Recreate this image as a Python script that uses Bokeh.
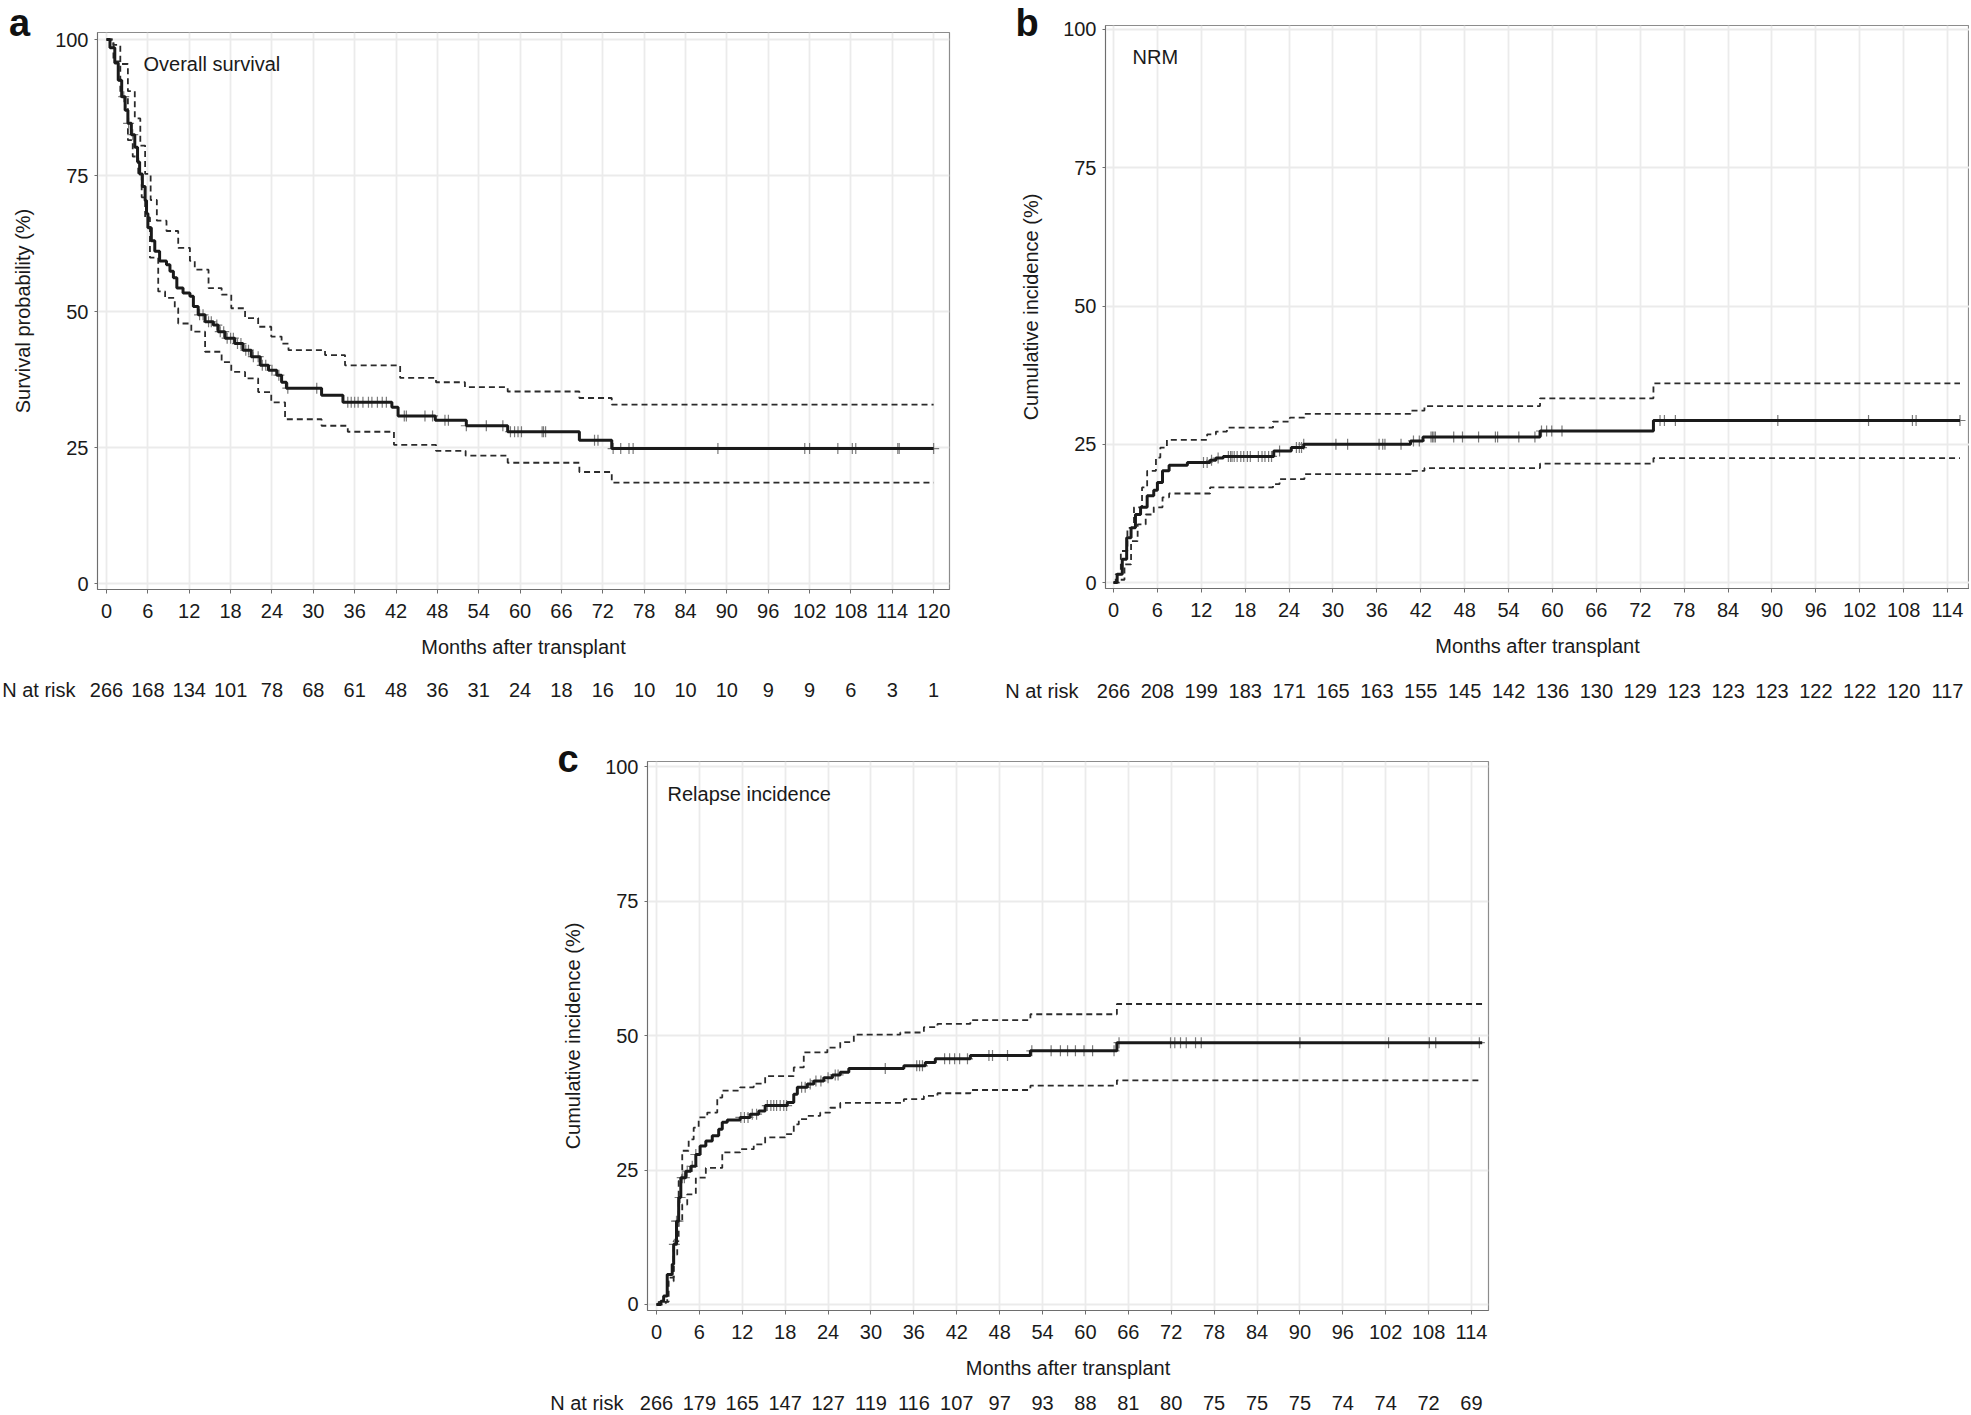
import numpy as np
from bokeh.plotting import figure
from bokeh.models import Label, ColumnDataSource, FixedTicker, Range1d, Spacer, Title
from bokeh.core.properties import value
from bokeh.layouts import row, column
from bokeh.embed import file_html
from bokeh.resources import INLINE

FONT = "Liberation Sans"
TXT = "#1a1a1a"

# ---------------- Panel a: overall survival ----------------
os_time = [0, 0.5, 1.2, 1.7, 2.2, 2.7, 3.1, 3.6, 4.1, 4.5, 4.8, 5.2, 5.6, 5.8, 6.0, 6.5, 7.0, 7.7, 8.7, 9.2,
           9.7, 10.2, 11.1, 12.1, 12.6, 13.3, 14.3, 15.5, 16.2, 17.2, 18.6, 19.8, 21.0, 22.3, 23.5, 24.7,
           25.4, 26.1, 31.2, 34.3, 41.4, 42.3, 47.7, 52.2, 58.2, 68.6, 73.3, 120]
os_surv = [100, 98.5, 95.7, 92.5, 89.5, 87.0, 84.6, 82.5, 80.2, 77.5, 75.3, 73.0, 70.4, 68.0, 65.4, 63.0, 61.1,
           59.3, 58.6, 57.4, 56.2, 54.3, 53.4, 52.8, 50.9, 49.4, 48.1, 47.5, 46.3, 45.1, 44.1, 42.9, 41.7, 40.1,
           39.2, 38.3, 37.0, 35.9, 34.6, 33.3, 32.4, 30.8, 30.0, 29.0, 27.9, 26.35, 24.8, 24.8]
os_up_time = [0, 1.0, 2.0, 3.1, 4.1, 4.9, 5.6, 6.4, 7.3, 8.7, 10.4, 12.1, 12.8, 14.8, 16.7, 18.1, 20.1, 22.0,
              23.9, 25.4, 26.4, 31.7, 34.6, 42.6, 47.8, 52.0, 58.2, 68.6, 73.3, 120]
os_up = [100, 99.0, 95.5, 90.5, 85.5, 80.5, 75.3, 70.5, 66.7, 64.8, 61.7, 59.3, 57.7, 54.3, 53.1, 50.6, 48.8,
         47.2, 45.4, 44.1, 42.9, 42.0, 40.1, 37.8, 37.0, 36.1, 35.3, 34.1, 32.9, 32.9]
os_lo_time = [0, 1.0, 2.0, 3.1, 3.8, 4.6, 5.1, 5.6, 6.3, 7.5, 8.5, 9.9, 10.4, 12.3, 14.3, 16.7, 18.1, 20.1,
              22.0, 23.9, 25.9, 31.2, 35.0, 41.7, 47.8, 52.1, 58.2, 68.6, 73.3, 120]
os_lo = [100, 96.0, 89.5, 81.5, 78.5, 75.3, 71.0, 67.3, 59.9, 53.7, 52.5, 50.6, 47.8, 46.3, 42.6, 40.7, 38.9,
         37.7, 35.2, 33.3, 30.2, 29.0, 27.9, 25.5, 24.4, 23.5, 22.2, 20.5, 18.55, 18.55]
os_censor = [2.5, 3.2, 3.8, 13.5, 14.0, 14.8, 15.2, 16.0, 16.5, 17.0, 17.5, 18.0, 18.4, 19.0, 19.5, 20.2, 20.6,
             21.3, 22.0, 22.6, 23.1, 24.0, 25.0, 26.3, 30.5, 35.0, 35.5, 36.0, 36.5, 37.2, 38.0, 38.5, 39.3,
             40.0, 40.6, 43.2, 43.5, 46.2, 47.3, 49.1, 49.6, 52.2, 55.1, 57.5, 58.6, 59.2, 59.7, 60.2, 63.2,
             63.4, 63.7, 70.8, 71.3, 73.5, 74.6, 75.8, 76.4, 88.7, 101.3, 102.0, 106.1, 108.2, 108.7, 114.8,
             115.0, 120.0]
os_ticks = list(range(0, 121, 6))
os_risk = [266, 168, 134, 101, 78, 68, 61, 48, 36, 31, 24, 18, 16, 10, 10, 10, 9, 9, 6, 3, 1]

# ---------------- Panel b: NRM ----------------
nrm_time = [0, 0.5, 1.2, 1.8, 2.4, 3.0, 3.7, 4.6, 5.5, 6.0, 6.7, 7.6, 10.1, 13.2, 14.0, 15.0, 21.9, 24.3,
            26.0, 40.6, 42.3, 58.3, 73.8, 115.7]
nrm_ci = [0, 1.5, 4.2, 8.1, 9.9, 12.3, 13.6, 15.7, 16.7, 18.1, 20.2, 21.2, 21.7, 22.1, 22.5, 22.8, 23.8, 24.4,
          25.0, 25.6, 26.3, 27.4, 29.3, 29.3]
nrm_up_time = [0, 0.3, 1.0, 1.9, 2.8, 3.9, 4.6, 5.8, 6.4, 7.3, 12.8, 14.0, 15.5, 21.8, 24.1, 26.1, 40.6, 42.5,
               58.3, 73.8, 115.7]
nrm_up = [0, 1.5, 5.7, 9.9, 13.6, 17.2, 20.2, 22.6, 24.4, 25.8, 26.8, 27.3, 28.0, 29.1, 29.8, 30.5, 31.1, 31.9,
          33.3, 36.0, 36.0]
nrm_lo_time = [0, 0.8, 1.5, 2.4, 3.3, 4.4, 5.5, 6.7, 7.6, 13.2, 21.8, 22.7, 26.1, 40.6, 42.5, 58.3, 73.8, 115.7]
nrm_lo = [0, 0.5, 3.3, 7.5, 10.5, 12.3, 13.6, 15.4, 16.1, 17.2, 17.8, 18.7, 19.6, 20.2, 20.7, 21.5, 22.5, 22.5]
nrm_censor = [12.3, 12.8, 13.4, 14.3, 15.7, 16.0, 16.2, 16.5, 16.9, 17.4, 17.8, 18.3, 18.7, 19.8, 20.3, 20.7,
              21.2, 21.6, 22.7, 25.0, 25.4, 25.7, 26.0, 30.4, 32.0, 36.3, 36.8, 37.1, 39.3, 41.0, 41.8, 43.4,
              43.6, 43.8, 44.0, 46.5, 47.7, 49.9, 52.2, 52.5, 55.4, 57.6, 58.5, 59.2, 59.9, 61.3, 74.7, 75.3,
              76.8, 90.8, 103.2, 109.2, 109.7, 115.7]
nrm_ticks = list(range(0, 115, 6))
nrm_risk = [266, 208, 199, 183, 171, 165, 163, 155, 145, 142, 136, 130, 129, 123, 123, 123, 122, 122, 120, 117]

# ---------------- Panel c: relapse incidence ----------------
rel_time = [0, 0.6, 1.0, 1.5, 2.2, 2.4, 2.8, 3.1, 3.4, 4.1, 4.8, 5.5, 6.1, 6.9, 7.8, 8.7, 9.2, 9.9, 11.7, 13.1,
            14.3, 15.2, 18.3, 19.2, 19.7, 21.1, 22.0, 23.4, 24.6, 25.7, 26.9, 34.6, 37.6, 39.0, 43.9, 52.3,
            64.4, 115.5]
rel_ci = [0, 0.6, 1.6, 5.6, 7.5, 11.2, 15.5, 19.9, 23.6, 24.8, 25.7, 27.9, 29.5, 30.4, 31.4, 32.6, 33.9, 34.3,
          34.8, 35.4, 36.0, 37.0, 37.6, 39.1, 40.4, 41.0, 41.6, 42.2, 42.7, 43.2, 43.9, 44.4, 45.0, 45.7, 46.3,
          47.2, 48.7, 48.7]
rel_up_time = [0, 0.3, 1.5, 2.4, 3.1, 3.6, 4.5, 5.2, 5.9, 7.1, 8.5, 9.2, 11.7, 13.6, 15.2, 19.2, 20.6, 23.9,
               25.7, 27.6, 34.1, 37.4, 39.3, 43.9, 52.3, 64.4, 115.5]
rel_up = [0, 0.5, 5.0, 11.8, 23.0, 28.6, 30.7, 32.9, 34.8, 35.7, 38.5, 39.8, 40.4, 41.1, 42.5, 44.1, 46.9, 47.8,
          48.8, 50.2, 50.6, 51.6, 52.2, 52.9, 54.0, 55.9, 55.9]
rel_lo_time = [0, 1.3, 1.7, 2.4, 2.9, 3.6, 4.3, 5.5, 6.9, 9.2, 11.7, 13.6, 15.2, 18.0, 19.2, 19.9, 21.1, 22.9,
               24.3, 25.7, 34.6, 37.4, 39.3, 43.9, 52.3, 64.4, 115.5]
rel_lo = [0, 0.5, 4.3, 9.3, 15.5, 18.6, 20.5, 23.6, 25.4, 28.3, 28.9, 29.8, 31.1, 31.7, 33.5, 34.5, 35.1, 35.7,
          36.6, 37.5, 38.2, 38.8, 39.3, 39.9, 40.7, 41.7, 41.7]
rel_censor = [2.5, 2.8, 3.0, 3.3, 3.6, 3.9, 4.3, 5.0, 5.5, 11.8, 12.3, 12.8, 13.4, 14.0, 15.5, 16.0, 16.4, 16.8,
              17.3, 17.8, 18.2, 20.3, 20.8, 21.5, 22.3, 23.0, 24.0, 25.0, 25.4, 32.0, 36.4, 36.8, 37.2, 40.3,
              41.0, 41.7, 42.4, 43.5, 46.5, 47.0, 49.1, 52.5, 55.2, 56.5, 57.5, 58.6, 59.8, 61.0, 64.0, 64.7,
              71.9, 72.5, 73.3, 74.1, 75.4, 76.2, 90.0, 102.4, 108.1, 109.0, 115.1]
rel_ticks = list(range(0, 115, 6))
rel_risk = [266, 179, 165, 147, 127, 119, 116, 107, 97, 93, 88, 81, 80, 75, 75, 75, 74, 74, 72, 69]

y_ticks = [0, 25, 50, 75, 100]


def step_at(t, times, vals):
    idx = np.searchsorted(np.asarray(times), np.asarray(t), side="right") - 1
    return np.asarray(vals)[np.clip(idx, 0, None)]


def no_align(fig):
    try:
        fig.frame_align = False
    except Exception:
        pass


def panel(letter, title, ylab, t, v, ut, uv, lt, lv, cens, ticks,
          width, height, mb, xr, yr, letter_dx, letter_standoff, title_pos):
    p = figure(width=width, height=height, output_backend="svg", toolbar_location=None, tools="",
               x_range=Range1d(*xr), y_range=Range1d(*yr))
    no_align(p)
    p.min_border = 0
    p.min_border_left, p.min_border_right, p.min_border_top, p.min_border_bottom = mb
    p.background_fill_color = "white"
    p.border_fill_color = "white"
    p.outline_line_color = "#8c8c8c"
    p.outline_line_width = 1.2

    # panel letter as the figure's title, shifted left of the frame
    tt = Title(text=letter, align="left", offset=letter_dx, vertical_align="bottom",
               text_font=FONT, text_font_size="38px", text_font_style="bold", text_color="#111111")
    try:
        tt.standoff = letter_standoff
    except Exception:
        tt.standoff = 0
    p.title = tt

    p.xaxis.ticker = FixedTicker(ticks=ticks)
    p.yaxis.ticker = FixedTicker(ticks=y_ticks)
    for ax in (p.xaxis[0], p.yaxis[0]):
        ax.axis_line_color = "#6e6e6e"
        ax.axis_line_width = 1
        ax.major_tick_line_color = "#6e6e6e"
        ax.major_tick_in = 0
        ax.minor_tick_line_color = None
        ax.major_label_text_font = FONT
        ax.major_label_text_font_size = "20px"
        ax.major_label_text_color = TXT
        ax.axis_label_text_font = FONT
        ax.axis_label_text_font_size = "20px"
        ax.axis_label_text_font_style = "normal"
        ax.axis_label_text_color = TXT
    p.xaxis.major_tick_out = 4
    p.yaxis.major_tick_out = 3
    p.xaxis.major_label_standoff = 10
    p.yaxis.major_label_standoff = 6
    p.xaxis.axis_label = "Months after transplant"
    p.yaxis.axis_label = ylab
    p.xaxis.axis_label_standoff = 15
    p.yaxis.axis_label_standoff = 18

    p.xgrid.grid_line_color = "#ebebeb"
    p.ygrid.grid_line_color = "#ebebeb"
    p.xgrid.grid_line_width = 1.8
    p.ygrid.grid_line_width = 1.8

    p.step(ut, uv, mode="after", line_color="#2b2b2b", line_width=1.8, line_dash="6 4")
    p.step(lt, lv, mode="after", line_color="#2b2b2b", line_width=1.8, line_dash="6 4")
    cy = step_at(cens, t, v)
    p.scatter(cens, cy, marker="cross", size=11, line_color="#7a7a7a", line_width=1.2)
    p.step(t, v, mode="after", line_color="#1a1a1a", line_width=3)

    p.add_layout(Label(x=title_pos[0], y=title_pos[1], x_units="screen", y_units="screen", text=title,
                       text_font=FONT, text_font_size="20px", text_color=TXT,
                       text_align="left", text_baseline="middle"))
    return p


def risk_strip(ticks, risk, width, height, mb_left, frame_w, xr, label_dx, y_from_top):
    ppu = frame_w / (xr[1] - xr[0])
    left = xr[0] - mb_left / ppu
    right = xr[0] + (width - mb_left) / ppu
    s = figure(width=width, height=height, output_backend="svg", toolbar_location=None, tools="",
               x_range=Range1d(left, right), y_range=Range1d(0, height),
               x_axis_type=None, y_axis_type=None)
    no_align(s)
    s.min_border = 0
    s.min_border_left = s.min_border_right = s.min_border_top = s.min_border_bottom = 0
    s.outline_line_color = None
    s.background_fill_color = "white"
    s.border_fill_color = "white"
    s.xgrid.visible = False
    s.ygrid.visible = False
    yc = height - y_from_top
    src = ColumnDataSource(dict(x=ticks, y=[yc] * len(ticks), txt=[str(r) for r in risk]))
    s.text(x="x", y="y", text="txt", source=src, text_font=value(FONT), text_font_size=value("20px"),
           text_color=TXT, text_align="center", text_baseline="middle")
    s.text(x=[xr[0] + label_dx / ppu], y=[yc], text=["N at risk"], text_font=value(FONT),
           text_font_size=value("20px"), text_color=TXT, text_align="right", text_baseline="middle")
    return s


# panel a  (page x 0-995, frame 97-949, top 32, bottom 589)
xa = (-1.31, 122.3)
pa = panel("a", "Overall survival", "Survival probability (%)",
           os_time, os_surv, os_up_time, os_up, os_lo_time, os_lo, os_censor, os_ticks,
           995, 668, (97, 46, 32, 79), xa, (-1.10, 101.29), -88.5, -22, (46, 526))
sa = risk_strip(os_ticks, os_risk, 995, 44, 97, 852, xa, -22, 21)

# panel b  (page x 995-1969, frame 1105-1969, top 25, bottom 588)
xb = (-1.094, 117.0)
pb = panel("b", "NRM", "Cumulative incidence (%)",
           nrm_time, nrm_ci, nrm_up_time, nrm_up, nrm_lo_time, nrm_lo, nrm_censor, nrm_ticks,
           974, 668, (110, 0, 25, 80), xb, (-1.08, 100.72), -90, -36, (27, 532))
sb = risk_strip(nrm_ticks, nrm_risk, 974, 44, 110, 864, xb, -27, 22)

# panel c  (page x 540-1500, frame 647-1488, top 761, bottom 1310)
xc = (-1.259, 116.38)
pc = panel("c", "Relapse incidence", "Cumulative incidence (%)",
           rel_time, rel_ci, rel_up_time, rel_up, rel_lo_time, rel_lo, rel_censor, rel_ticks,
           960, 677, (107, 12, 49, 79), xc, (-1.12, 101.02), -90, -36, (20, 517))
sc = risk_strip(rel_ticks, rel_risk, 960, 25, 107, 841, xc, -24, 13)

layout = column(
    row(column(pa, sa), column(pb, sb)),
    row(Spacer(width=540, height=702), column(pc, sc)),
)
open("out.html", "w").write(file_html(layout, INLINE))
